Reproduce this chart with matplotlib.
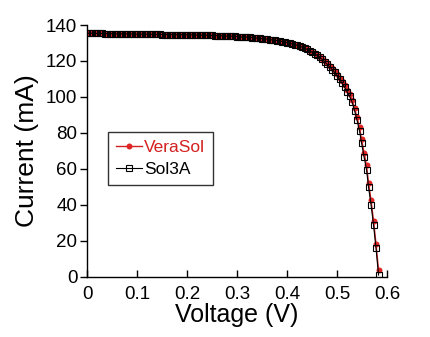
import numpy as np
import matplotlib
matplotlib.use("Agg")
import matplotlib.pyplot as plt

plt.rcParams['font.family'] = ['Liberation Sans', 'DejaVu Sans']

# Напряжение (В)
voltage = [
    0.000, 0.005, 0.010, 0.015, 0.020, 0.025, 0.030, 0.035, 0.040, 0.045,
    0.050, 0.055, 0.060, 0.065, 0.070, 0.075, 0.080, 0.085, 0.090, 0.095,
    0.100, 0.105, 0.110, 0.115, 0.120, 0.125, 0.130, 0.135, 0.140, 0.145,
    0.150, 0.155, 0.160, 0.165, 0.170, 0.175, 0.180, 0.185, 0.190, 0.195,
    0.200, 0.205, 0.210, 0.215, 0.220, 0.225, 0.230, 0.235, 0.240, 0.245,
    0.250, 0.255, 0.260, 0.265, 0.270, 0.275, 0.280, 0.285, 0.290, 0.295,
    0.300, 0.305, 0.310, 0.315, 0.320, 0.325, 0.330, 0.335, 0.340, 0.345,
    0.350, 0.355, 0.360, 0.365, 0.370, 0.375, 0.380, 0.385, 0.390, 0.395,
    0.400, 0.405, 0.410, 0.415, 0.420, 0.425, 0.430, 0.435, 0.440, 0.445,
    0.450, 0.455, 0.460, 0.465, 0.470, 0.475, 0.480, 0.485, 0.490, 0.495,
    0.500, 0.505, 0.510, 0.515, 0.520, 0.525, 0.530, 0.535, 0.540, 0.545,
    0.549, 0.554, 0.559, 0.563, 0.568, 0.573, 0.578, 0.583,
]

# Ток VeraSol (мА)
current_verasol = [
    135.4, 135.4, 135.4, 135.3, 135.3, 135.3, 135.3, 135.2, 135.2, 135.2,
    135.2, 135.1, 135.1, 135.1, 135.1, 135.0, 135.0, 135.0, 135.0, 134.9,
    134.9, 134.9, 134.9, 134.9, 134.9, 134.8, 134.8, 134.8, 134.8, 134.8,
    134.7, 134.7, 134.7, 134.7, 134.7, 134.6, 134.6, 134.6, 134.6, 134.6,
    134.5, 134.5, 134.5, 134.4, 134.4, 134.4, 134.3, 134.3, 134.3, 134.2,
    134.2, 134.1, 134.1, 134.0, 134.0, 133.9, 133.9, 133.8, 133.8, 133.7,
    133.6, 133.5, 133.4, 133.3, 133.2, 133.1, 133.0, 132.9, 132.7, 132.6,
    132.4, 132.3, 132.1, 131.9, 131.7, 131.5, 131.3, 131.1, 130.8, 130.5,
    130.2, 129.9, 129.5, 129.1, 128.7, 128.2, 127.7, 127.1, 126.5, 125.8,
    125.0, 124.2, 123.3, 122.3, 121.2, 120.0, 118.7, 117.3, 115.8, 114.2,
    112.5, 110.6, 108.6, 106.4, 104.0, 101.6, 98.4, 93.8, 88.6, 83.0,
    76.5, 68.9, 61.8, 52.2, 42.4, 31.0, 18.0, 3.4,
]

# Ток Sol3A (мА)
current_sol3a = [
    135.4, 135.4, 135.4, 135.3, 135.3, 135.3, 135.3, 135.2, 135.2, 135.2,
    135.2, 135.1, 135.1, 135.1, 135.1, 135.0, 135.0, 135.0, 135.0, 134.9,
    134.9, 134.9, 134.9, 134.9, 134.9, 134.8, 134.8, 134.8, 134.8, 134.8,
    134.7, 134.7, 134.7, 134.7, 134.7, 134.6, 134.6, 134.6, 134.6, 134.6,
    134.5, 134.5, 134.5, 134.4, 134.4, 134.4, 134.3, 134.3, 134.3, 134.2,
    134.2, 134.1, 134.1, 134.0, 134.0, 133.9, 133.9, 133.8, 133.8, 133.7,
    133.6, 133.5, 133.4, 133.3, 133.2, 133.1, 133.0, 132.9, 132.7, 132.6,
    132.4, 132.3, 132.1, 131.9, 131.7, 131.5, 131.3, 131.1, 130.8, 130.5,
    130.2, 129.9, 129.5, 129.1, 128.7, 128.2, 127.7, 127.1, 126.4, 125.7,
    124.9, 124.0, 123.1, 122.0, 120.9, 119.6, 118.2, 116.8, 115.2, 113.6,
    111.8, 109.8, 107.7, 105.4, 102.9, 100.4, 97.2, 92.4, 87.0, 81.0,
    74.4, 66.6, 59.4, 49.8, 40.0, 28.6, 15.6, 0.8,
]

xticks = [0, 0.1, 0.2, 0.3, 0.4, 0.5, 0.6]
xtick_labels = ['0', '0.1', '0.2', '0.3', '0.4', '0.5', '0.6']
yticks = [0, 20, 40, 60, 80, 100, 120, 140]

fig = plt.figure(figsize=(4.31, 3.37), dpi=100)
ax = fig.add_axes([0.2019, 0.1795, 0.6961, 0.7463])

ax.plot(voltage, current_verasol, color='#d42020', linewidth=1.0, marker='o',
        markersize=4.3, markeredgewidth=0, markerfacecolor='#e02525', label='VeraSol', zorder=2)
ax.plot(voltage, current_sol3a, color='black', linewidth=0.8, marker='s',
        markersize=4.5, markeredgewidth=0.8, markerfacecolor='none',
        markeredgecolor='black', label='Sol3A', zorder=3)

ax.set_xlim(0, 0.6)
ax.set_ylim(0, 140)
ax.set_xticks(xticks)
ax.set_xticklabels(xtick_labels)
ax.set_yticks(yticks)

ax.spines['top'].set_visible(False)
ax.spines['right'].set_visible(False)
ax.spines['left'].set_linewidth(1.0)
ax.spines['bottom'].set_linewidth(1.0)
ax.tick_params(axis='x', direction='in', length=5, width=1, labelsize=13.5, pad=7)
ax.tick_params(axis='y', direction='out', length=5, width=1, labelsize=13.5, pad=2)

ax.set_xlabel('Voltage (V)', fontsize=18, labelpad=0)
ax.set_ylabel('Current (mA)', fontsize=19, labelpad=5)

leg = ax.legend(loc='upper left', bbox_to_anchor=(0.071, 0.576), borderaxespad=0,
                fontsize=12.5, fancybox=False, frameon=True, handlelength=1.5,
                handletextpad=0.1, borderpad=0.45, labelspacing=0.4)
leg.get_frame().set_edgecolor('black')
leg.get_frame().set_linewidth(1.0)
texts = leg.get_texts()
texts[0].set_color('#d42020')
texts[1].set_color('black')

fig.savefig('out.png', dpi=100)
